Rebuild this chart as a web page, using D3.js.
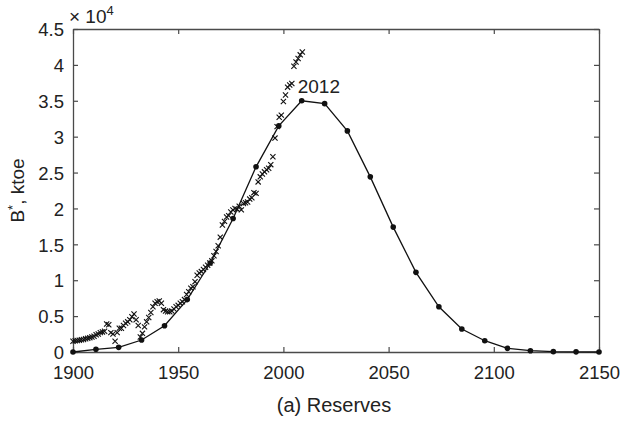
<!DOCTYPE html>
<html>
<head>
<meta charset="utf-8">
<script src="https://cdn.jsdelivr.net/npm/d3@7"></script>
<style>
  html, body { margin: 0; padding: 0; background: #fff; }
  svg { display: block; }
  text { font-family: "Liberation Sans", Arial, Helvetica, sans-serif; fill: #222; }
</style>
</head>
<body>
<svg id="chart" width="626" height="424"></svg>
<script>
// Model curve (filled dots joined by a line), years and ktoe
const modelYears = [1900, 1910.9, 1921.7, 1932.6, 1943.5, 1954.3, 1965.2, 1976.1, 1987.0, 1997.8,
  2008.7, 2019.6, 2030.4, 2041.3, 2052.2, 2063.0, 2073.9, 2084.8, 2095.7, 2106.5,
  2117.4, 2128.3, 2139.1, 2150];
const modelValues = [0, 380, 650, 1670, 3660, 7300, 12400, 18600, 25800, 31500,
  35000, 34600, 30800, 24400, 17400, 11100, 6300, 3200, 1570, 510,
  180, 50, 20, 0];

// Observed reserves (cross markers), years and ktoe
const obsYears = [1900, 1901, 1902, 1903, 1904, 1905, 1906, 1907, 1908, 1909,
  1910, 1911, 1912, 1913, 1914, 1915, 1916, 1917, 1918, 1919,
  1920, 1921, 1922, 1923, 1924, 1925, 1926, 1927, 1928, 1929,
  1930, 1931, 1932, 1933, 1934, 1935, 1936, 1937, 1938, 1939,
  1940, 1941, 1942, 1943, 1944, 1945, 1946, 1947, 1948, 1949,
  1950, 1951, 1952, 1953, 1954, 1955, 1956, 1957, 1958, 1959,
  1960, 1961, 1962, 1963, 1964, 1965, 1966, 1967, 1968, 1969,
  1970, 1971, 1972, 1973, 1974, 1975, 1976, 1977, 1978, 1979,
  1980, 1981, 1982, 1983, 1984, 1985, 1986, 1987, 1988, 1989,
  1990, 1991, 1992, 1993, 1994, 1995, 1996, 1997, 1998, 1999,
  2000, 2001, 2002, 2003, 2004, 2005, 2006, 2007, 2008, 2009];
const obsValues = [1500, 1550, 1600, 1650, 1700, 1750, 1850, 1900, 2000, 2100,
  2200, 2400, 2500, 2700, 2800, 2900, 3900, 3800, 2700, 2500,
  1500, 2700, 3300, 3300, 3700, 4000, 4200, 4500, 4900, 5300,
  4500, 3700, 2100, 2600, 3500, 4200, 4800, 5500, 6300, 6800,
  7000, 7100, 6800, 5900, 5700, 5600, 5600, 5700, 6000, 6300,
  6500, 6800, 7000, 7300, 8000, 8400, 8900, 9100, 9800, 10700,
  11000, 11200, 11500, 11800, 12100, 12400, 12700, 13400, 14000, 14800,
  16000, 17700, 18200, 18800, 19000, 19500, 19800, 20000, 19900, 20300,
  19800, 20700, 20800, 20900, 21300, 21500, 22200, 22100, 23700, 24400,
  24800, 25100, 25400, 25600, 26100, 27200, 29800, 31400, 32700, 33000,
  34900, 35800, 36900, 37200, 37400, 39800, 40400, 40900, 41400, 41800];

const xTicks = [1900, 1950, 2000, 2050, 2100, 2150];
const yTicks = [0, 5000, 10000, 15000, 20000, 25000, 30000, 35000, 40000, 45000];
const peakLabel = "2012";
const peakIndex = 10;

const svg = d3.select("#chart");
const plotLeft = 73, plotRight = 599, plotTop = 29, plotBottom = 352;
const axisColor = "#4a4a4a";
const tickLen = 5;

const x = d3.scaleLinear().domain([1900, 2150]).range([plotLeft, plotRight]);
const y = d3.scaleLinear().domain([0, 45000]).range([plotBottom, plotTop]);

// Axes with inward ticks on all four sides
const fmtY = d => d3.format("")(d / 10000);
const gx = svg.append("g").attr("transform", `translate(0,${plotBottom})`)
  .call(d3.axisBottom(x).tickValues(xTicks).tickSizeInner(-tickLen).tickSizeOuter(0).tickPadding(14).tickFormat(d3.format("d")));
const gxTop = svg.append("g").attr("transform", `translate(0,${plotTop})`)
  .call(d3.axisTop(x).tickValues(xTicks).tickSizeInner(-tickLen).tickSizeOuter(0).tickFormat(""));
const gy = svg.append("g").attr("transform", `translate(${plotLeft},0)`)
  .call(d3.axisLeft(y).tickValues(yTicks).tickSizeInner(-tickLen).tickSizeOuter(0).tickPadding(9).tickFormat(fmtY));
const gyRight = svg.append("g").attr("transform", `translate(${plotRight},0)`)
  .call(d3.axisRight(y).tickValues(yTicks).tickSizeInner(-tickLen).tickSizeOuter(0).tickFormat(""));

[gx, gxTop, gy, gyRight].forEach(g => {
  g.select(".domain").attr("stroke", axisColor).attr("stroke-width", 1.3);
  g.selectAll(".tick line").attr("stroke", axisColor).attr("stroke-width", 1.2);
  g.selectAll(".tick text").attr("fill", "#222").style("font-size", "18.5px")
    .style("font-family", '"Liberation Sans", Arial, sans-serif');
});
gx.selectAll(".tick text").attr("dy", "0.71em");
gy.selectAll(".tick text").attr("dy", "0.36em");

// Exponent label above the y axis
const expo = svg.append("text").attr("x", 69).attr("y", 23).style("font-size", "19px");
expo.append("tspan").text("\u00d7 10");
expo.append("tspan").attr("dy", -8).style("font-size", "13px").text("4");

// Y axis title
const ylab = svg.append("text")
  .attr("transform", `translate(24,${(plotTop + plotBottom) / 2}) rotate(-90)`)
  .attr("text-anchor", "middle").style("font-size", "19px");
ylab.append("tspan").text("B");
ylab.append("tspan").attr("dy", -7).style("font-size", "13px").text("*");
ylab.append("tspan").attr("dy", 7).text(", ktoe");

// Caption
svg.append("text").attr("x", 334).attr("y", 412).attr("text-anchor", "middle")
  .style("font-size", "20px").text("(a) Reserves");

// Observed crosses
const obs = obsYears.map((yr, i) => [yr, obsValues[i]]);
const cs = 2.6;
svg.append("g").selectAll("path.cross").data(obs).join("path")
  .attr("class", "cross")
  .attr("d", d => {
    const cx = x(d[0]), cy = y(d[1]);
    return `M${cx - cs},${cy - cs}L${cx + cs},${cy + cs}M${cx - cs},${cy + cs}L${cx + cs},${cy - cs}`;
  })
  .attr("stroke", "#111").attr("stroke-width", 1.1).attr("fill", "none");

// Model line and dots
const model = modelYears.map((yr, i) => [yr, modelValues[i]]);
svg.append("path").datum(model)
  .attr("d", d3.line().x(d => x(d[0])).y(d => y(d[1])))
  .attr("fill", "none").attr("stroke", "#111").attr("stroke-width", 1.3);
svg.append("g").selectAll("circle").data(model).join("circle")
  .attr("cx", d => x(d[0])).attr("cy", d => y(d[1])).attr("r", 2.8).attr("fill", "#111");

// Peak annotation
svg.append("text")
  .attr("x", x(modelYears[peakIndex]) - 4)
  .attr("y", y(modelValues[peakIndex]) - 8)
  .style("font-size", "19px").text(peakLabel);
</script>
</body>
</html>
